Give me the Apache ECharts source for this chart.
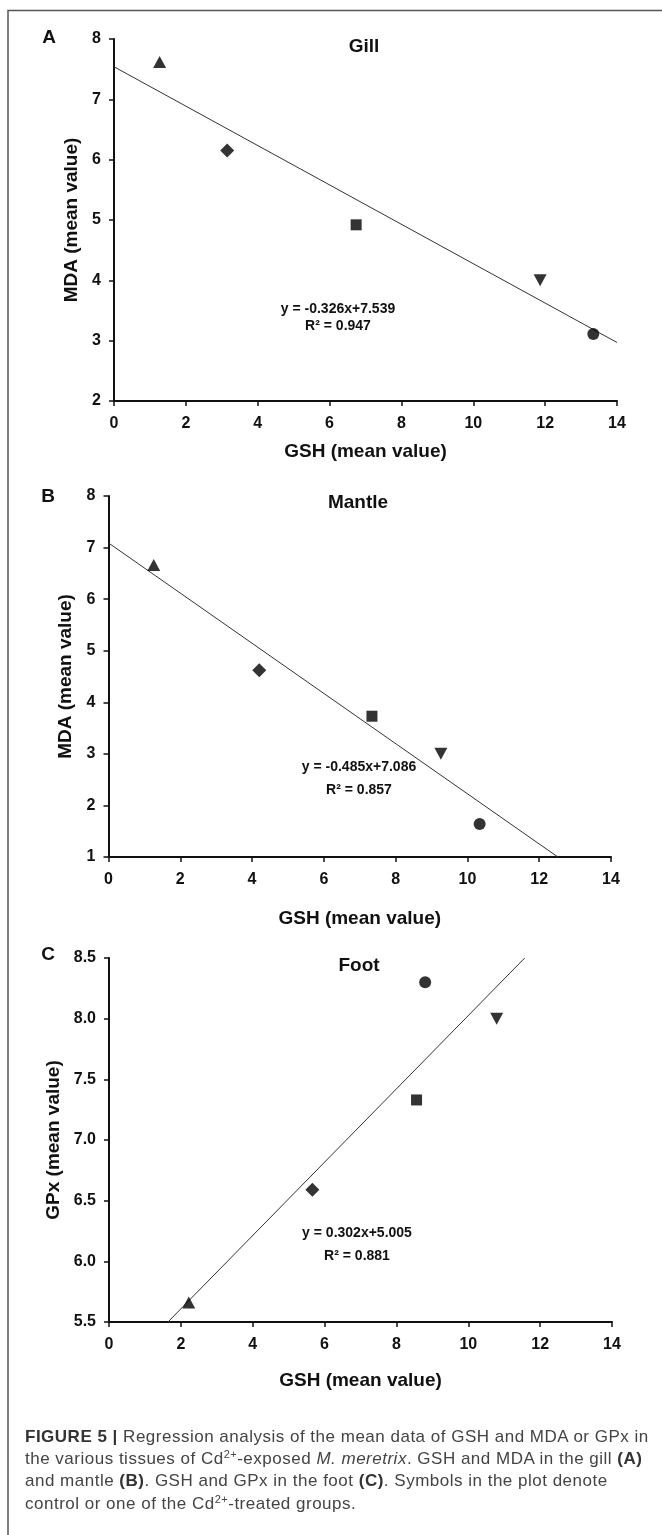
<!DOCTYPE html>
<html>
<head>
<meta charset="utf-8">
<script src="https://cdn.jsdelivr.net/npm/echarts@6/dist/echarts.min.js"></script>
<style>
  body { margin: 0; background: #fff; }
  #chart { position: absolute; left: 0; top: 0; width: 662px; height: 1535px; }
  #caption {
    position: absolute; left: 25px; top: 1426px;
    font-family: "Liberation Sans", Arial, sans-serif; font-size: 17px;
    letter-spacing: 0.5px; line-height: 22.2px; color: #444; white-space: nowrap;
  }
  #caption b { color: #333; }
  #caption sup { font-size: 11px; line-height: 0; vertical-align: 6px; }
</style>
</head>
<body>
<div id="chart"></div>
<div id="caption">
  <b>FIGURE 5 |</b> Regression analysis of the mean data of GSH and MDA or GPx in<br>
  the various tissues of Cd<sup>2+</sup>-exposed <i>M. meretrix</i>. GSH and MDA in the gill <b>(A)</b><br>
  and mantle <b>(B)</b>. GSH and GPx in the foot <b>(C)</b>. Symbols in the plot denote<br>
  control or one of the Cd<sup>2+</sup>-treated groups.
</div>
<script>
// values, one point per group (control + Cd groups)
const gillGSH = [1.27, 3.15, 6.74, 11.86, 13.34];
const gillMDA = [7.62, 6.15, 4.92, 4.00, 3.11];
const mantleGSH = [1.26, 4.20, 7.34, 9.26, 10.34];
const mantleMDA = [6.66, 4.62, 3.73, 3.00, 1.64];
const footGSH = [2.22, 5.66, 8.56, 10.79, 8.80];
const footGPx = [5.66, 6.59, 7.33, 8.00, 8.30];

// fitted lines, ends as drawn
const gillFit = [[0, 7.54], [14, 2.97]];
const mantleFit = [[0, 7.09], [12.52, 1.0]];
const footFit = [[1.64, 5.5], [11.57, 8.5]];

const panelTitles = ['Gill', 'Mantle', 'Foot'];
const panelLetters = ['A', 'B', 'C'];
const yNames = ['MDA (mean value)', 'MDA (mean value)', 'GPx (mean value)'];
const fitLabels = ['y = -0.326x+7.539', 'y = -0.485x+7.086', 'y = 0.302x+5.005'];
const r2Labels = ['R² = 0.947', 'R² = 0.857', 'R² = 0.881'];

const FONT = '"Liberation Sans", Arial, sans-serif';

const groupMarkers = [
  { symbol: 'triangle', size: [13, 12], rotate: 0 },
  { symbol: 'diamond', size: [14, 14], rotate: 0 },
  { symbol: 'rect', size: [11, 11], rotate: 0 },
  { symbol: 'triangle', size: [13, 12], rotate: 180 },
  { symbol: 'circle', size: 12, rotate: 0 },
];

function points(xs, ys) {
  return xs.map((x, i) => ({
    value: [x, ys[i]],
    symbol: groupMarkers[i].symbol,
    symbolSize: groupMarkers[i].size,
    symbolRotate: groupMarkers[i].rotate,
  }));
}

const grids = [
  { left: 114, top: 39, width: 503, height: 362 },
  { left: 108.5, top: 496, width: 502.5, height: 361 },
  { left: 109, top: 958, width: 503, height: 364 },
];

function xAxis(i, gap) {
  return {
    type: 'value', gridIndex: i, min: 0, max: 14, interval: 2,
    name: 'GSH (mean value)', nameLocation: 'middle', nameGap: gap,
    nameTextStyle: { fontFamily: FONT, fontWeight: 'bold', fontSize: 19, color: '#111' },
    axisLine: { lineStyle: { color: '#111', width: 2 } },
    axisTick: { inside: false, length: 5, lineStyle: { color: '#111', width: 1.5 } },
    axisLabel: { fontFamily: FONT, fontWeight: 'bold', fontSize: 16, color: '#111', margin: 15 },
    splitLine: { show: false },
  };
}

function yAxis(i, min, max, step, gap, dec) {
  return {
    type: 'value', gridIndex: i, min: min, max: max, interval: step,
    name: yNames[i], nameLocation: 'middle', nameGap: gap,
    nameTextStyle: { fontFamily: FONT, fontWeight: 'bold', fontSize: 19, color: '#111' },
    axisLine: { show: true, lineStyle: { color: '#111', width: 2 } },
    axisTick: { show: true, length: 5, lineStyle: { color: '#111', width: 1.5 } },
    axisLabel: {
      fontFamily: FONT, fontWeight: 'bold', fontSize: 16, color: '#111', margin: 13,
      formatter: (v) => v.toFixed(dec),
    },
    splitLine: { show: false },
  };
}

function scatter(i, xs, ys) {
  return {
    type: 'scatter', xAxisIndex: i, yAxisIndex: i,
    data: points(xs, ys),
    itemStyle: { color: '#000' },
    z: 3,
  };
}

function fitLine(i, ends) {
  return {
    type: 'line', xAxisIndex: i, yAxisIndex: i,
    data: ends, showSymbol: false, silent: true,
    lineStyle: { color: '#333', width: 1 },
    z: 2,
  };
}

function text(x, y, str, size, weight) {
  return {
    type: 'text', x: x, y: y,
    style: {
      text: str, fill: '#111', fontFamily: FONT, fontSize: size,
      fontWeight: weight || 'bold', align: 'center', verticalAlign: 'middle',
    },
  };
}

const chart = echarts.init(document.getElementById('chart'));

chart.setOption({
  animation: false,
  grid: grids,
  xAxis: [xAxis(0, 41), xAxis(1, 52), xAxis(2, 49)],
  yAxis: [
    yAxis(0, 2, 8, 1, 31, 0),
    yAxis(1, 1, 8, 1, 31, 0),
    yAxis(2, 5.5, 8.5, 0.5, 36, 1),
  ],
  series: [
    fitLine(0, gillFit), scatter(0, gillGSH, gillMDA),
    fitLine(1, mantleFit), scatter(1, mantleGSH, mantleMDA),
    fitLine(2, footFit), scatter(2, footGSH, footGPx),
  ],
  graphic: [
    { type: 'rect', shape: { x: 8, y: 10.5, width: 720, height: 1600 },
      style: { fill: 'none', stroke: '#555', lineWidth: 1.5 } },
    text(49, 38, panelLetters[0], 19), text(48, 497, panelLetters[1], 19), text(48, 955, panelLetters[2], 19),
    text(364, 47, panelTitles[0], 19), text(358, 503, panelTitles[1], 19), text(359, 966, panelTitles[2], 19),
    text(338, 309, fitLabels[0], 14), text(338, 326, r2Labels[0], 14),
    text(359, 767, fitLabels[1], 14), text(359, 790, r2Labels[1], 14),
    text(357, 1233, fitLabels[2], 14), text(357, 1256, r2Labels[2], 14),
  ],
});
</script>
</body>
</html>
